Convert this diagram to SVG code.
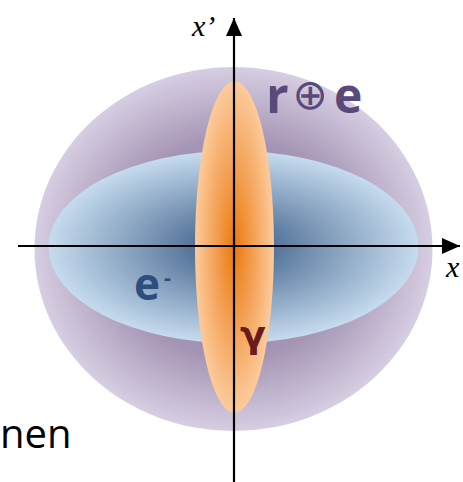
<svg xmlns="http://www.w3.org/2000/svg" width="463" height="482" viewBox="0 0 463 482">
<style>
.lab{font-family:"Open Sans","Liberation Sans",sans-serif;font-weight:bold}
.ax{stroke:#000;stroke-width:2.2;fill:none}
.it{font-family:"Liberation Serif",serif;font-style:italic;font-size:30px;fill:#000}
</style>
<defs>
<radialGradient id="gOuter" cx="0.5" cy="0.5" r="0.5">
<stop offset="0" stop-color="#8a7aa0"/>
<stop offset="0.6" stop-color="#a595b5"/>
<stop offset="1" stop-color="#d6cee2"/>
</radialGradient>
<radialGradient id="gBlue" cx="0.5" cy="0.5" r="0.5">
<stop offset="0" stop-color="#365782"/>
<stop offset="0.5" stop-color="#7f9bba"/>
<stop offset="1" stop-color="#c6dbee"/>
</radialGradient>
<radialGradient id="gOrange" cx="0.5" cy="0.5" r="0.5">
<stop offset="0" stop-color="#eb7a0a"/>
<stop offset="0.5" stop-color="#f3a256"/>
<stop offset="1" stop-color="#fccb9c"/>
</radialGradient>
<marker id="arr" viewBox="0 0 18 16" refX="18" refY="8" markerWidth="18" markerHeight="16" markerUnits="userSpaceOnUse" orient="auto">
<path d="M0,0 L18,8 L0,16 Z" fill="#000"/>
</marker>
</defs>
<g id="outer"><ellipse cx="233.5" cy="249" rx="199" ry="182" fill="url(#gOuter)"/></g>
<g id="electron"><ellipse cx="233.5" cy="247" rx="185" ry="96" fill="url(#gBlue)"/></g>
<g id="photon"><ellipse cx="234.5" cy="247" rx="39.5" ry="166" fill="url(#gOrange)"/></g>
<g id="connectors">
<line class="ax" x1="18" y1="246" x2="460" y2="246" marker-end="url(#arr)"/>
<line class="ax" x1="234" y1="482" x2="234" y2="18" marker-end="url(#arr)"/>
</g>
<g id="labels">
<text class="it" x="192" y="36">x’</text>
<text class="it" x="446" y="277">x</text>
<text class="lab" x="266" y="113" font-size="50" fill="#5a4a7c">r</text>
<text x="310" y="109" text-anchor="middle" font-family="DejaVu Sans,sans-serif" font-size="42" fill="#5a4a7c">⊕</text>
<text class="lab" x="334" y="113" font-size="48" fill="#5a4a7c">e</text>
<text class="lab" x="134" y="300" font-size="44" fill="#2d4e7e">e</text>
<text class="lab" x="164" y="285" font-size="22" fill="#2d4e7e">-</text>
<text x="240" y="347" font-family="DejaVu Sans,sans-serif" font-weight="bold" font-size="38" fill="#6a1c1c">γ</text>
<text x="0" y="448" font-family="Open Sans,Liberation Sans,sans-serif" font-size="40" fill="#000">nen</text>
</g>
</svg>
